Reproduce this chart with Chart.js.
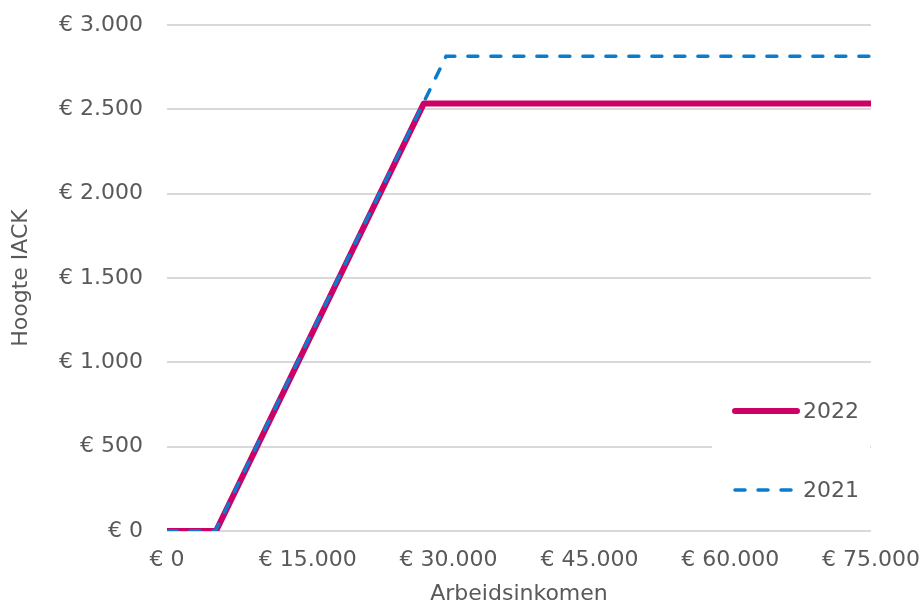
<!DOCTYPE html>
<html>
<head>
<meta charset="utf-8">
<script src="https://cdn.jsdelivr.net/npm/chart.js@4/dist/chart.umd.min.js"></script>
<style>
  html, body { margin: 0; padding: 0; background: #fff; }
  #wrap { width: 922px; height: 605px; }
</style>
</head>
<body>
<div id="wrap"><canvas id="chart" width="922" height="605"></canvas></div>
<script>
// IACK (combinatiekorting) per arbeidsinkomen
const seriesNames = ['2022', '2021'];
const income2022 = [0, 5220, 27351, 75000];
const iack2022 = [0, 0, 2534, 2534];
const income2021 = [0, 5153, 29738, 75000];
const iack2021 = [0, 0, 2815, 2815];
const xTicks = [0, 15000, 30000, 45000, 60000, 75000];
const yTicks = [0, 500, 1000, 1500, 2000, 2500, 3000];

const colors = { '2022': '#cc0066', '2021': '#0b7bcc' };
const textColor = '#595959';
const font = { family: 'DejaVu Sans', size: 22 };

function euro(v) {
  return '€ ' + String(v).replace(/\B(?=(\d{3})+(?!\d))/g, '.');
}
function toPoints(xs, ys) {
  return xs.map((x, i) => ({ x: x, y: ys[i] }));
}

// legenda rechts in de grafiek, met witte achtergrond
const legendBox = {
  id: 'legendBox',
  afterDatasetsDraw(chart) {
    const ctx = chart.ctx;
    const a = chart.chartArea;
    ctx.save();
    ctx.fillStyle = '#fff';
    ctx.fillRect(a.right - 159, a.bottom - 146, 158, 125);
    const items = [
      { name: seriesNames[0], y: a.bottom - 120, dash: [], width: 6 },
      { name: seriesNames[1], y: a.bottom - 41, dash: [10, 13], width: 3.5 }
    ];
    items.forEach(it => {
      ctx.beginPath();
      ctx.setLineDash(it.dash);
      ctx.lineWidth = it.width;
      ctx.lineCap = 'round';
      ctx.strokeStyle = colors[it.name];
      ctx.moveTo(a.right - 136, it.y);
      ctx.lineTo(a.right - 74, it.y);
      ctx.stroke();
      ctx.setLineDash([]);
      ctx.fillStyle = textColor;
      ctx.font = '22px "DejaVu Sans"';
      ctx.textBaseline = 'middle';
      ctx.fillText(it.name, a.right - 68, it.y + 1);
    });
    ctx.restore();
  }
};

new Chart(document.getElementById('chart'), {
  type: 'line',
  data: {
    datasets: [
      {
        label: seriesNames[1],
        data: toPoints(income2021, iack2021),
        borderColor: colors['2021'],
        borderWidth: 3.5,
        borderDash: [10, 13],
        borderCapStyle: 'round',
        pointRadius: 0,
        tension: 0,
        order: 0
      },
      {
        label: seriesNames[0],
        data: toPoints(income2022, iack2022),
        borderColor: colors['2022'],
        borderWidth: 6,
        borderCapStyle: 'round',
        borderJoinStyle: 'round',
        pointRadius: 0,
        tension: 0,
        order: 1
      }
    ]
  },
  options: {
    responsive: false,
    animation: false,
    layout: { padding: { top: 25, right: 51, bottom: 0, left: 0 } },
    plugins: { legend: { display: false }, tooltip: { enabled: false } },
    scales: {
      x: {
        type: 'linear',
        min: 0,
        max: 75000,
        afterBuildTicks: s => { s.ticks = xTicks.map(v => ({ value: v })); },
        afterFit: s => { s.height = 74; s.paddingLeft = 0; s.paddingRight = 0; },
        grid: { display: false },
        border: { display: false },
        ticks: { color: textColor, font: font, padding: 8, maxRotation: 0, callback: v => euro(v) },
        title: { display: true, text: 'Arbeidsinkomen', color: textColor, font: font, padding: { top: 0, bottom: -2 } }
      },
      y: {
        min: 0,
        max: 3000,
        afterBuildTicks: s => { s.ticks = yTicks.map(v => ({ value: v })); },
        afterFit: s => { s.width = 167; s.paddingTop = 0; s.paddingBottom = 0; },
        grid: { color: '#d9d9d9', lineWidth: 2, drawTicks: false },
        border: { display: false },
        ticks: { color: textColor, font: font, padding: 24, callback: v => euro(v) },
        title: { display: true, text: 'Hoogte IACK', color: textColor, font: font, padding: { top: 8, bottom: 0 } }
      }
    }
  },
  plugins: [legendBox]
});
</script>
</body>
</html>
